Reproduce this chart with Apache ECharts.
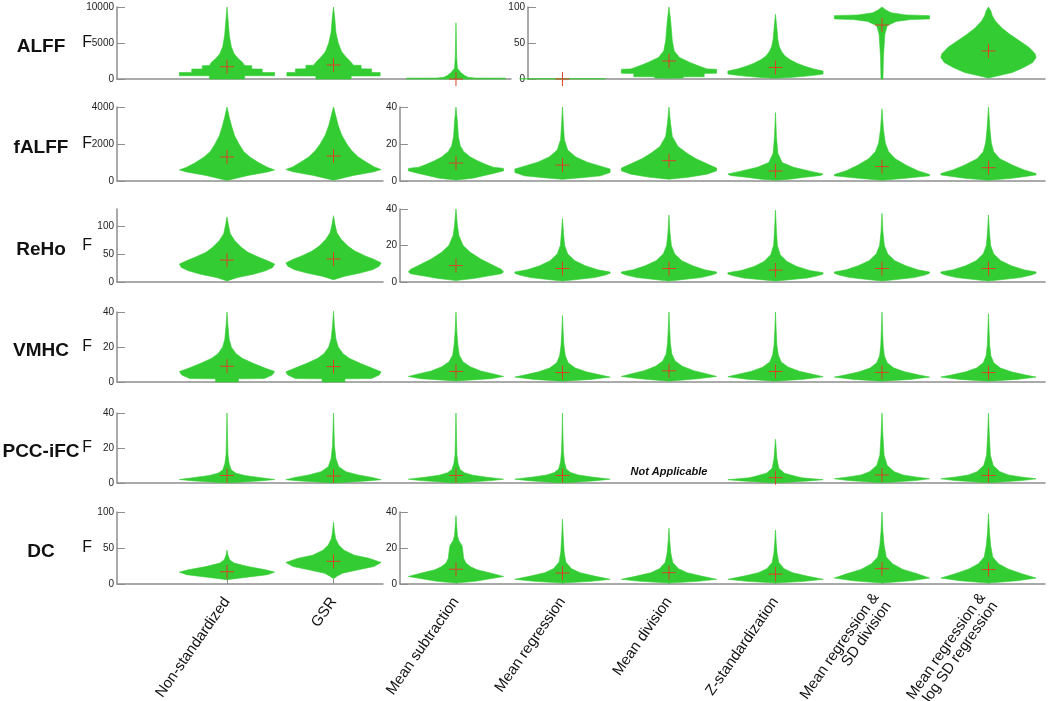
<!DOCTYPE html>
<html><head><meta charset="utf-8">
<script src="https://cdn.jsdelivr.net/npm/echarts@6/dist/echarts.min.js"></script>
<style>html,body{margin:0;padding:0;background:#fff}#c{width:1050px;height:701px}</style>
</head><body><div id="c"></div>
<script>
// ---------- DATA ----------
const methods = ['Non-standardized','GSR','Mean subtraction','Mean regression','Mean division','Z-standardization','Mean regression &\nSD division','Mean regression &\nlog SD regression'];
const measures = ['ALFF','fALFF','ReHo','VMHC','PCC-iFC','DC'];

// tick labels of each panel's F axis
const ticksALFF_L = [0,5000,10000], ticksALFF_R = [0,50,100];
const ticksFALFF_L = [0,2000,4000], ticksFALFF_R = [0,20,40];
const ticksReHo_L = [0,50,100], ticksReHo_R = [0,20,40];
const ticksVMHC = [0,20,40];
const ticksPCC = [0,20,40];
const ticksDC_L = [0,50,100], ticksDC_R = [0,20,40];
const axisMaxALFF = [10000,100], axisMaxFALFF = [4000,40], axisMaxReHo = [130,40], axisMaxVMHC = [40], axisMaxPCC = [40], axisMaxDC = [100,40];

// mean F (red cross) per method
const meanALFF  = [1700, 1950, 0, 0, 25, 16, 75, 39];
const meanFALFF = [1300, 1350, 9.7, 8.6, 11, 5.4, 7.8, 7.2];
const meanReHo  = [39, 41, 9, 7.4, 7.4, 6.5, 7.4, 7.4];
const meanVMHC  = [9, 8.8, 6, 5.4, 6.4, 6, 5.5, 5.4];
const meanPCC   = [4.3, 4, 4.3, 4.3, null, 3, 4.6, 4.3];
const meanDC    = [17, 31.5, 8.2, 6.1, 6.3, 5.5, 8.5, 8];

// violin outlines: [F value, relative half width]
const profALFF = [
  [[0,.37],[450,.37],[460,1],[900,1],[910,.74],[1380,.74],[1390,.52],[1850,.52],[1860,.37],[2300,.33],[2800,.24],[3500,.15],[4500,.09],[6000,.05],[8000,.025],[10000,0]],
  [[0,.37],[420,.37],[430,.98],[900,.98],[910,.8],[1400,.8],[1410,.58],[1900,.58],[1910,.42],[2400,.36],[3000,.27],[3800,.17],[5000,.1],[6500,.05],[8500,.025],[10000,0]],
  [[0,1.04],[120,1.04],[130,.4],[250,.25],[500,.18],[900,.1],[1500,.03],[3000,.015],[7800,0]],
  [[0,.9],[0.4,.9],[0.5,0]],
  [[1,0],[1.5,.3],[3,.3],[3.2,.74],[7.8,.74],[8,1],[13.5,1],[14,.8],[18,.63],[23,.44],[30,.22],[39,.11],[53,.07],[81,.035],[100,0]],
  [[1,0],[2,.3],[4,.65],[6,.9],[7,1],[11,1],[14,.8],[18,.6],[22,.45],[27,.3],[32,.2],[38,.13],[45,.08],[55,.05],[70,.03],[90,0]],
  [[0,.02],[30,.03],[62,.06],[74,.11],[80,.3],[82.5,.6],[83.5,1],[88,1],[89,.5],[92,.19],[96,.08],[100,0]],
  [[1.4,0],[9,.5],[16,.74],[23,.93],[30,1],[35,.98],[44,.85],[53,.65],[62,.45],[71,.28],[81,.14],[88,.08],[94.5,.05],[100,0]]
];
const profFALFF = [
  [[30,0],[300,.44],[490,.85],[600,1],[740,.85],[980,.67],[1300,.48],[1600,.35],[1960,.26],[2450,.16],[2940,.1],[3430,.05],[4000,0]],
  [[40,0],[300,.42],[500,.85],[620,1],[760,.86],[1000,.7],[1300,.52],[1650,.38],[2000,.28],[2500,.17],[3000,.1],[3500,.05],[4000,0]],
  [[0.5,0],[1.5,.35],[3,.6],[4.5,.85],[5.5,1],[6.8,1],[7.5,.78],[9,.62],[11,.45],[13,.3],[16,.16],[19,.09],[24,.05],[32,.03],[40,0]],
  [[0.9,0],[1.8,.4],[2.8,.8],[4.6,1],[6.5,1],[8.4,.75],[10.2,.52],[13,.28],[16.7,.11],[22.3,.04],[30,.02],[40,0]],
  [[1,0],[2,.4],[3.7,.8],[5.5,1],[7,1],[9.3,.8],[12,.57],[15,.38],[18.6,.19],[24,.07],[31.6,.03],[40,0]],
  [[0.4,0],[1,.3],[1.9,.57],[3,.95],[3.8,1],[5.2,.75],[7.4,.38],[10,.14],[15,.05],[24,.02],[37,0]],
  [[0.4,0],[1.5,.5],[2.8,1],[3.5,1],[5.6,.75],[8.4,.52],[12,.28],[15.8,.14],[20.5,.07],[28,.03],[39,0]],
  [[0.4,0],[1.5,.5],[3.3,1],[4,1],[6,.75],[8.4,.52],[12,.24],[15.8,.11],[20.5,.06],[28,.03],[40,0]]
];
const profReHo = [
  [[2,0],[8,.22],[14,.56],[20,.81],[26,.96],[32,1],[38,.85],[44,.67],[53,.44],[62,.3],[74,.16],[86,.07],[101,.03],[116,0]],
  [[4,0],[10,.22],[16,.56],[22,.82],[28,.96],[34,1],[40,.86],[46,.68],[55,.45],[64,.3],[76,.16],[88,.07],[103,.03],[118,0]],
  [[0.8,0],[2,.4],[3.3,.67],[4.5,.95],[5.5,1],[7,.95],[8.9,.8],[12.6,.52],[16.3,.3],[20,.15],[25.5,.06],[31,.03],[40,0]],
  [[0.5,0],[1.5,.35],[2.4,.67],[3.8,.9],[4.8,1],[5.5,1],[6.7,.74],[8.9,.48],[11.7,.26],[15.4,.11],[20,.045],[27.4,.02],[34.8,0]],
  [[0.5,0],[1.5,.35],[2.4,.67],[3.8,.9],[4.8,1],[5.5,1],[6.7,.75],[8.9,.5],[11.7,.27],[15.4,.12],[20,.05],[27.4,.02],[36.7,0]],
  [[0.5,0],[1.4,.35],[2.2,.67],[3.5,.9],[4.4,1],[5.1,1],[6.3,.72],[8.5,.45],[11.3,.24],[15,.1],[20,.04],[28,.02],[39.4,0]],
  [[0.5,0],[1.5,.35],[2.4,.67],[3.8,.9],[4.8,1],[5.5,1],[6.7,.75],[8.9,.5],[11.7,.27],[15.4,.12],[20,.05],[27.4,.02],[37.6,0]],
  [[0.5,0],[1.5,.35],[2.4,.67],[3.8,.9],[4.8,1],[5.5,1],[6.7,.74],[8.9,.48],[11.7,.26],[15.4,.11],[20,.045],[27.4,.02],[36.7,0]]
];
const profVMHC = [
  [[0,.24],[1.8,.24],[2,.78],[4,.95],[6,1],[7.8,.81],[10.6,.56],[13.4,.33],[16.2,.19],[20,.09],[24.6,.045],[32,.02],[40,0]],
  [[0,.24],[1.8,.24],[2,.8],[4,.96],[5.8,1],[7.8,.82],[10.6,.57],[13.4,.34],[16.2,.2],[20,.1],[24.6,.05],[32,.02],[40.5,0]],
  [[0.6,0],[1.9,.74],[3.2,1],[4.5,.81],[6.3,.52],[8.7,.3],[11.5,.15],[15.3,.07],[21,.04],[28,.02],[40,0]],
  [[0.5,0],[1.5,.6],[2.8,1],[4,.8],[5.8,.5],[8,.27],[11,.12],[15,.06],[21,.03],[28,.015],[38,0]],
  [[0.5,0],[1.8,.6],[3.2,1],[4.5,.82],[6.5,.52],[9,.28],[12,.13],[16,.06],[22,.03],[30,.015],[40,0]],
  [[0.5,0],[1.6,.6],[3,1],[4.3,.8],[6.2,.5],[8.5,.27],[11.5,.12],[15.5,.06],[21,.03],[29,.015],[40,0]],
  [[0.5,0],[1.5,.6],[2.8,1],[4,.78],[5.8,.48],[8,.25],[11,.11],[15,.05],[21,.025],[30,.012],[40,0]],
  [[0.5,0],[1.5,.6],[2.8,1],[4,.78],[5.8,.48],[8,.25],[11,.11],[15,.05],[21,.025],[30,.012],[39,0]]
];
const profPCC = [
  [[0.2,.1],[1.3,.74],[2,1],[3.2,.67],[4.3,.37],[5.6,.19],[7.4,.09],[11,.045],[16,.02],[25,.012],[40,0]],
  [[0.2,.1],[1.2,.7],[1.9,1],[3.2,.81],[4.6,.52],[6.5,.26],[9.3,.11],[14,.05],[21.4,.02],[40,0]],
  [[0.2,.1],[1.4,.74],[2.2,1],[3.3,.65],[4.5,.35],[5.8,.18],[7.6,.09],[11,.045],[16,.02],[25,.012],[40,0]],
  [[0.2,.1],[1.3,.7],[2.2,1],[3.4,.62],[4.6,.33],[6,.17],[8,.08],[12,.04],[18,.02],[27,.01],[40,0]],
  null,
  [[0.2,.1],[1.2,.7],[1.9,1],[3,.55],[3.7,.44],[5.6,.19],[8.4,.07],[14,.03],[25,0]],
  [[0.3,.1],[1.4,.7],[2.4,1],[3.5,.7],[4.6,.44],[6.5,.26],[10,.11],[15.8,.045],[27,.02],[40,0]],
  [[0.3,.1],[1.4,.7],[2.4,1],[3.5,.68],[4.6,.42],[6.5,.24],[10,.1],[15.8,.04],[27,.018],[40,0]]
];
const profDC = [
  [[6,0],[9,.37],[13,.85],[16.5,1],[19.7,.81],[24.3,.44],[29,.15],[33.5,.06],[40,.02],[47,0]],
  [[7.3,0],[11,.08],[15,.19],[19.7,.52],[24.3,.85],[30,1],[35.8,.74],[40,.44],[47,.22],[54,.11],[63,.045],[72.5,.02],[86,0]],
  [[0.5,0],[1.5,.4],[2.4,.6],[4.2,1],[6,.74],[7.9,.44],[9.7,.3],[11.6,.21],[14.3,.16],[17,.15],[21,.13],[22.5,.1],[24,.06],[27,.03],[32.6,.015],[38,0]],
  [[0.5,0],[1.5,.6],[2.6,1],[4.4,.67],[6.3,.37],[8.5,.19],[12.2,.07],[17.8,.035],[27,.015],[36,0]],
  [[0.5,0],[1.5,.6],[2.6,1],[4.4,.68],[6.3,.38],[8.5,.2],[12,.08],[17,.04],[24,.015],[31,0]],
  [[0.5,0],[1.5,.6],[2.6,1],[4.4,.66],[6.3,.36],[8.5,.18],[12,.07],[17,.035],[23,.015],[30,0]],
  [[0.5,0],[1.8,.6],[3.3,1],[5.7,.74],[8.1,.44],[11.3,.22],[15,.09],[21.5,.045],[29,.02],[40,0]],
  [[0.5,0],[1.8,.6],[3.3,1],[5.7,.7],[8.4,.41],[11.3,.21],[15,.09],[21.5,.045],[29,.02],[39,0]]
];

// ---------- LAYOUT ----------
const COL0 = 227, COLW = 106.5;               // pixel of slot 0, pixels per slot
const slots = [0,1,2.15,3.15,4.15,5.15,6.15,7.15];
const HALF = 47.6 / COLW;                      // max half width in slot units
const AXL = 117, AXR = 1045;
const rowTop  = [7, 107, 209, 312, 413, 512];
const rowZero = [79, 181, 282, 382, 483, 584];
const GREEN = '#33cc33', RED = '#d8432a', AXC = '#8e8e8e';
const FONT = 'Liberation Sans, Arial, Helvetica, sans-serif';

const rows = [
  {prof: profALFF, mean: meanALFF, panels: [
    {cols:[0,1,2], x:[AXL,511], max:axisMaxALFF[0], ticks:ticksALFF_L},
    {cols:[3,4,5,6,7], x:[528,AXR], max:axisMaxALFF[1], ticks:ticksALFF_R}]},
  {prof: profFALFF, mean: meanFALFF, panels: [
    {cols:[0,1], x:[AXL,383], max:axisMaxFALFF[0], ticks:ticksFALFF_L},
    {cols:[2,3,4,5,6,7], x:[400,AXR], max:axisMaxFALFF[1], ticks:ticksFALFF_R}]},
  {prof: profReHo, mean: meanReHo, panels: [
    {cols:[0,1], x:[AXL,383], max:axisMaxReHo[0], ticks:ticksReHo_L},
    {cols:[2,3,4,5,6,7], x:[400,AXR], max:axisMaxReHo[1], ticks:ticksReHo_R}]},
  {prof: profVMHC, mean: meanVMHC, panels: [
    {cols:[0,1,2,3,4,5,6,7], x:[AXL,AXR], max:axisMaxVMHC[0], ticks:ticksVMHC}]},
  {prof: profPCC, mean: meanPCC, na: 6.5, panels: [
    {cols:[0,1,2,3,4,5,6,7], x:[AXL,AXR], max:axisMaxPCC[0], ticks:ticksPCC}]},
  {prof: profDC, mean: meanDC, panels: [
    {cols:[0,1], x:[AXL,383], max:axisMaxDC[0], ticks:ticksDC_L},
    {cols:[2,3,4,5,6,7], x:[400,AXR], max:axisMaxDC[1], ticks:ticksDC_R}]}
];

const option = {animation:false, backgroundColor:'#fff', grid:[], xAxis:[], yAxis:[], series:[], graphic:[]};
const px2slot = p => (p - COL0) / COLW;

rows.forEach((row, r) => {
  option.graphic.push({type:'text', x:41, y:(rowTop[r]+rowZero[r])/2 + 4,
    style:{text:measures[r], font:'bold 19px ' + FONT, fill:'#111', align:'center', verticalAlign:'middle'}});
  row.panels.forEach((p, pi) => {
    const gi = option.grid.length;
    const last = r === rows.length - 1;
    option.grid.push({left:p.x[0], width:p.x[1]-p.x[0], top:rowTop[r], height:rowZero[r]-rowTop[r],
      containLabel:false, outerBoundsMode:'none'});
    const labVals = p.cols.map(c => slots[c]);
    option.xAxis.push({gridIndex:gi, type:'value', min:px2slot(p.x[0]), max:px2slot(p.x[1]),
      axisLine:{show:true, onZero:false, lineStyle:{color:AXC, width:1.5}},
      axisTick:{show:last, inside:true, length:5, customValues:labVals, lineStyle:{color:AXC}},
      axisLabel:{show:last, customValues:labVals, rotate:55, margin:15, fontSize:15, fontFamily:FONT, color:'#111',
        formatter: v => { const k = slots.findIndex(s => Math.abs(s - v) < 1e-6); return k >= 0 ? methods[k] : ''; }},
      splitLine:{show:false}});
    const y = {gridIndex:gi, type:'value', min:0, max:p.max, interval:p.ticks[1]-p.ticks[0],
      axisLine:{show:true, onZero:false, lineStyle:{color:AXC, width:1.5}},
      axisTick:{show:true, inside:true, length:8, customValues:p.ticks, lineStyle:{color:AXC}},
      axisLabel:{customValues:p.ticks, fontSize:10, fontFamily:FONT, color:'#222', margin:3, formatter: v => String(v)},
      splitLine:{show:false}};
    if (pi === 0) {
      Object.assign(y, {name:'F', nameLocation:'middle', nameRotate:0, nameGap: 25, nameMoveOverlap:false,
        nameTextStyle:{fontSize:16, fontFamily:FONT, color:'#111'}});
    }
    option.yAxis.push(y);
    option.series.push({
      type:'custom', xAxisIndex:gi, yAxisIndex:gi, clip:false, silent:true,
      data: p.cols.map(c => [slots[c], c]),
      renderItem: (params, api) => {
        const s = api.value(0), c = api.value(1);
        const prof = row.prof[c];
        const children = [];
        if (!prof) {
          const pt = api.coord([s, row.na]);
          children.push({type:'text', style:{text:'Not Applicable', x:pt[0], y:pt[1],
            font:'italic bold 11px ' + FONT, fill:'#111', align:'center', verticalAlign:'middle'}});
          return {type:'group', children};
        }
        const right = prof.map(d => api.coord([s + d[1]*HALF, d[0]]));
        const left = prof.slice().reverse().map(d => api.coord([s - d[1]*HALF, d[0]]));
        children.push({type:'polygon', shape:{points: right.concat(left)},
          style:{fill:GREEN, stroke:GREEN, lineWidth:0.6}});
        const m = row.mean[c];
        if (m !== null && m !== undefined) {
          const cp = api.coord([s, m]);
          children.push({type:'line', shape:{x1:cp[0]-7, y1:cp[1], x2:cp[0]+7, y2:cp[1]}, style:{stroke:RED, lineWidth:1}});
          children.push({type:'line', shape:{x1:cp[0], y1:cp[1]-7, x2:cp[0], y2:cp[1]+7}, style:{stroke:RED, lineWidth:1}});
        }
        return {type:'group', children};
      }
    });
  });
});

const chart = echarts.init(document.getElementById('c'), null, {renderer:'canvas'});
chart.setOption(option);
</script>
</body></html>
